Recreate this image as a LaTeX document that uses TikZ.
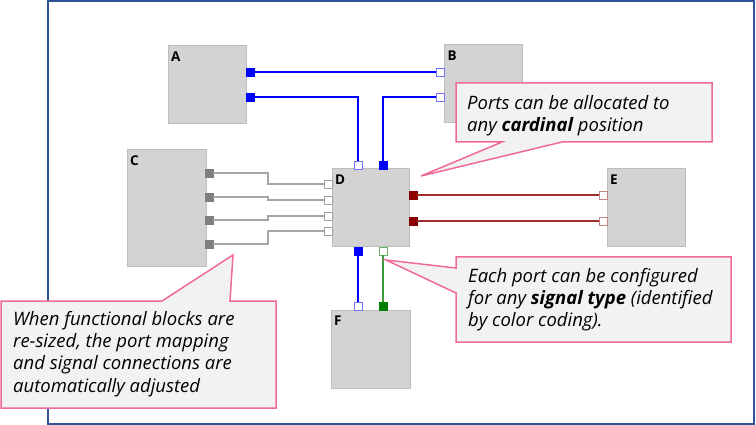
\documentclass[tikz,border=0pt]{standalone}
\usepackage{fontspec}
\setmainfont{Open Sans}
\definecolor{framecol}{HTML}{2F5597}
\definecolor{blockfill}{HTML}{D3D3D3}
\definecolor{blockline}{HTML}{BDBDBD}
\definecolor{wireblue}{HTML}{0000FF}
\definecolor{hollowblue}{HTML}{7373FF}
\definecolor{portgray}{HTML}{7F7F7F}
\definecolor{wiregray}{HTML}{A6A6A6}
\definecolor{hollowgray}{HTML}{9E9E9E}
\definecolor{portred}{HTML}{8B0000}
\definecolor{wirered}{HTML}{9B2D2D}
\definecolor{hollowred}{HTML}{C48585}
\definecolor{portgreen}{HTML}{008000}
\definecolor{wiregreen}{HTML}{3C9A3C}
\definecolor{hollowgreen}{HTML}{6DB36D}
\definecolor{calloutline}{HTML}{F06A98}
\definecolor{calloutfill}{HTML}{F2F2F2}
\begin{document}
\begin{tikzpicture}[x=1pt,y=-1pt,
    block/.style={draw=blockline, fill=blockfill, line width=1pt, inner sep=0, minimum width=78pt, minimum height=78pt},
    blocklabel/.style={anchor=north west, inner sep=0, font=\fontsize{13.5}{13.5}\selectfont\bfseries},
    port/.style={inner sep=0, minimum size=8pt, line width=0.8pt},
    fport/.style={port, draw=#1, fill=#1},
    hport/.style={port, draw=#1, fill=white},
    wire/.style={line width=1.5pt, draw=#1},
    callout/.style={draw=calloutline, fill=calloutfill, line width=1.5pt, line join=miter},
    callouttext/.style={anchor=north west, inner sep=0, align=left, font=\fontsize{18.5}{22.3}\selectfont\itshape}]
    \useasboundingbox (0,0) rectangle (756,425);
    \draw[framecol, line width=2pt] (48,1) rectangle (754,424);
    % functional blocks
    \node[block] (A) at (207,85) {};
    \node[block] (B) at (483.5,84) {};
    \node[block, minimum width=79pt, minimum height=117pt] (C) at (166.5,208.5) {};
    \node[block, minimum width=77pt] (D) at (370.5,208) {};
    \node[block] (E) at (646,208) {};
    \node[block, minimum width=79pt] (F) at (370.5,349) {};
    \foreach \blk in {A,B,C,D,E,F}
        \node[blocklabel] at ([shift={(3.5,6)}]\blk.north west) {\blk};
    % ports
    \foreach \y [count=\i] in {72,97} {
        \node[fport=wireblue] (A\i) at (250,\y) {};
        \node[hport=hollowblue] (B\i) at (440,\y) {};
    }
    \node[hport=hollowblue] (Dn1) at (358,165) {};
    \node[fport=wireblue] (Dn2) at (383,165) {};
    \foreach \yc/\yd [count=\i] in {173/184,197/200,220/216,244/231} {
        \node[fport=portgray] (C\i) at (209,\yc) {};
        \node[hport=hollowgray] (Dw\i) at (328,\yd) {};
    }
    \foreach \y [count=\i] in {195,221} {
        \node[fport=portred] (De\i) at (413,\y) {};
        \node[hport=hollowred] (E\i) at (603,\y) {};
    }
    \node[fport=wireblue] (Ds1) at (358,251) {};
    \node[hport=hollowgreen] (Ds2) at (383,251) {};
    \node[hport=hollowblue] (F1) at (358,306) {};
    \node[fport=portgreen] (F2) at (383,306) {};
    % signal connections
    \draw[wire=wireblue] (A1) -- (B1);
    \draw[wire=wireblue] (A2) -| (Dn1);
    \draw[wire=wireblue] (B2) -| (Dn2);
    \coordinate (jog) at (268,0);
    \foreach \i in {1,...,4}
        \draw[wire=wiregray] (C\i) -- (C\i -| jog) |- (Dw\i);
    \foreach \i in {1,2}
        \draw[wire=wirered] (De\i) -- (E\i);
    \draw[wire=wireblue] (Ds1) -- (F1);
    \draw[wire=wiregreen] (Ds2) -- (F2);
    % callouts
    \draw[callout] (456,83) -- (712,83) -- (712,142) -- (562,142) -- (421,176) -- (502,142) -- (456,142) -- cycle;
    \node[callouttext] (note1) at (467,95) {Ports can be allocated to\\any \textbf{cardinal} position};
    \draw[callout] (456,257) -- (731,257) -- (731,342) -- (456,342) -- (456,293) -- (386,260) -- (456,268) -- cycle;
    \node[callouttext] (note2) at (468,268) {Each port can be configured\\for any \textbf{signal type} (identified\\by color coding).};
    \draw[callout] (1,301) -- (162,301) -- (233,255) -- (230,301) -- (276,301) -- (276,408) -- (1,408) -- cycle;
    \node[callouttext] (note3) at (13,311) {When functional blocks are\\re-sized, the port mapping\\and signal connections are\\automatically adjusted};
\end{tikzpicture}
\end{document}
